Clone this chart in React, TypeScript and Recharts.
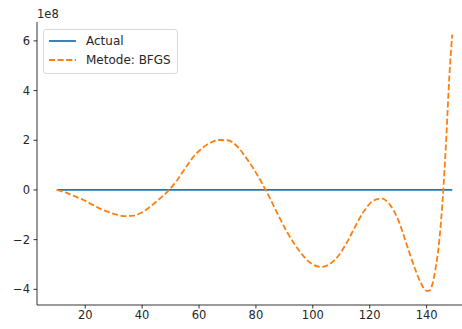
import { LineChart, Line, XAxis, YAxis } from 'recharts';

// x positions (iterations) and the two series
const xs = [10, 13, 16, 19, 22, 25, 28, 31, 34, 37, 40, 43, 46, 49, 52, 55, 58, 61, 64, 67, 70, 73, 76, 79, 82, 85, 88, 91, 94, 97, 100, 103, 106, 109, 112, 115, 118, 121, 124, 127, 130, 133, 136, 138, 140, 141, 142, 143, 144, 145, 146, 147, 148, 149];
const actual = xs.map(() => 0);
const bfgs = [0, -0.1e8, -0.24e8, -0.38e8, -0.56e8, -0.74e8, -0.88e8, -0.99e8, -1.05e8, -1.03e8, -0.9e8, -0.66e8, -0.37e8, -0.06e8, 0.35e8, 0.85e8, 1.33e8, 1.67e8, 1.9e8, 2.01e8, 2.0e8, 1.8e8, 1.38e8, 0.88e8, 0.3e8, -0.35e8, -1.05e8, -1.7e8, -2.25e8, -2.7e8, -3.0e8, -3.1e8, -2.98e8, -2.65e8, -2.1e8, -1.45e8, -0.85e8, -0.45e8, -0.34e8, -0.58e8, -1.2e8, -2.2e8, -3.2e8, -3.75e8, -4.06e8, -4.05e8, -3.8e8, -3.25e8, -2.5e8, -1.35e8, 0.25e8, 2.3e8, 4.6e8, 6.25e8];

const xTicks = [20, 40, 60, 80, 100, 120, 140];
const yTicks = [-4e8, -2e8, 0, 2e8, 4e8, 6e8];
const seriesNames = ['Actual', 'Metode: BFGS'];

const rows = xs.map((x, i) => ({ x, actual: actual[i], bfgs: bfgs[i] }));

const font = 'DejaVu Sans';
const tickStyle = { fontSize: 11.5, fill: '#262626', fontFamily: font };

function fmtY(v: number) {
    const n = v / 1e8;
    return n < 0 ? '\u2212' + Math.abs(n) : String(n);
}

function App() {
    return (
        <div style={{ position: 'absolute', left: 0, top: 0, width: 462, height: 329, overflow: 'hidden', background: '#fff', fontFamily: font }}>
            <LineChart width={480} height={329} data={rows} margin={{ top: 22, right: 8, bottom: 0, left: 0 }}>
                <XAxis dataKey="x" type="number" domain={[3.05, 155.95]} ticks={xTicks} height={24}
                    tickSize={3.5} tickMargin={2.5} tick={tickStyle}
                    axisLine={{ stroke: '#000', strokeWidth: 0.8 }} tickLine={{ stroke: '#000', strokeWidth: 0.8 }} />
                <XAxis xAxisId="top" orientation="top" type="number" domain={[3.05, 155.95]} height={0}
                    tick={false} tickLine={false} axisLine={{ stroke: '#000', strokeWidth: 0.8 }} />
                <YAxis type="number" domain={[-4.63e8, 6.76e8]} ticks={yTicks} width={37}
                    tickSize={3.5} tickMargin={3.5} tick={tickStyle} tickFormatter={fmtY}
                    axisLine={{ stroke: '#000', strokeWidth: 0.8 }} tickLine={{ stroke: '#000', strokeWidth: 0.8 }} />
                <Line type="monotone" dataKey="actual" stroke="#1f77b4" strokeWidth={1.8} dot={false} isAnimationActive={false} />
                <Line type="monotone" dataKey="bfgs" stroke="#ff7f0e" strokeWidth={1.8} strokeDasharray="6 2.6" dot={false} isAnimationActive={false} />
            </LineChart>

            <span style={{ position: 'absolute', left: 37, top: 7, fontSize: 11.5, color: '#262626' }}>1e8</span>

            <div style={{ position: 'absolute', left: 43, top: 29, width: 133, height: 43, border: '1px solid #d9d9d9', borderRadius: 3, background: 'rgba(255,255,255,0.8)', fontSize: 12, color: '#262626' }}>
                {seriesNames.map((name, i) => (
                    <div key={name} style={{ position: 'absolute', left: 4, top: 3 + i * 19, height: 16, display: 'flex', alignItems: 'center', whiteSpace: 'nowrap' }}>
                        <svg width={28} height={16}>
                            <line x1={1} x2={28} y1={8} y2={8} stroke={i === 0 ? '#1f77b4' : '#ff7f0e'} strokeWidth={1.8}
                                strokeDasharray={i === 0 ? undefined : '6 2.6'} />
                        </svg>
                        <span style={{ marginLeft: 10 }}>{name}</span>
                    </div>
                ))}
            </div>
        </div>
    );
}

export default App;
